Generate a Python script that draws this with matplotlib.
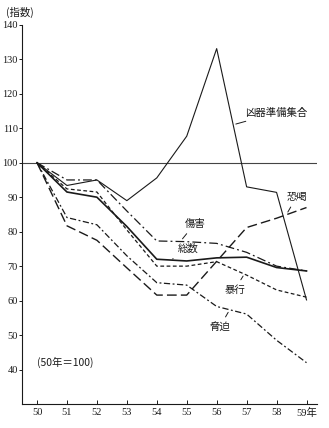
import matplotlib.pyplot as plt

# 年次 (昭和50年 = 100)
years = [50, 51, 52, 53, 54, 55, 56, 57, 58, 59]
year_labels = ['50', '51', '52', '53', '54', '55', '56', '57', '58', '59年']

kyoki = [100, 93.4, 95.0, 89.0, 95.6, 107.7, 133.1, 93.0, 91.4, 60.2]   # 凶器準備集合
shougai = [100, 95.0, 95.0, 86.0, 77.3, 77.1, 76.6, 74.0, 70.0, 68.6]   # 傷害
sousu = [100, 91.5, 90.0, 81.5, 72.0, 71.5, 72.4, 72.6, 69.6, 68.6]     # 総数
boukou = [100, 92.4, 91.5, 80.5, 70.0, 70.0, 71.3, 67.4, 63.1, 61.0]    # 暴行
kyouhaku = [100, 84.1, 82.0, 73.0, 65.2, 64.5, 58.3, 56.1, 48.5, 42.0]  # 脅迫
kyoukatsu = [100, 81.7, 77.5, 69.5, 61.6, 61.6, 71.4, 81.2, 83.9, 87.0] # 恐喝

y_ticks = [40, 50, 60, 70, 80, 90, 100, 110, 120, 130, 140]

JP = ['Noto Sans CJK JP', 'DejaVu Sans']
NUM = 'Liberation Serif'
ink = '#1a1a1a'

fig = plt.figure(figsize=(3.29, 4.28), dpi=100)
ax = fig.add_axes([0.067, 0.056, 0.8965, 0.886])

ax.axhline(100, color='#444444', lw=0.8)

ax.plot(years, kyoki, color=ink, lw=0.8)
ax.plot(years, shougai, color=ink, lw=0.9, ls=(0, (7, 2.5, 1.5, 2.5)))
ax.plot(years, sousu, color=ink, lw=1.2)
ax.plot(years, boukou, color=ink, lw=0.9, ls=(0, (3, 2)))
ax.plot(years, kyouhaku, color=ink, lw=0.9, ls=(0, (5, 2, 1.5, 2)))
ax.plot(years, kyoukatsu, color=ink, lw=1.0, ls=(0, (7, 3)))

ax.set_xlim(49.5, 59.35)
ax.set_ylim(30, 140)
ax.set_xticks(years)
ax.set_xticklabels(year_labels, fontsize=7.5, family=[NUM, 'Noto Sans CJK JP'])
ax.set_yticks(y_ticks)
ax.set_yticklabels([str(v) for v in y_ticks], fontsize=7.5, family=NUM)
ax.tick_params(axis='x', direction='in', length=3, width=0.7, colors=ink, pad=3)
ax.tick_params(axis='y', direction='out', length=2.5, width=0.7, colors=ink, pad=0.5)
for s in ['top', 'right']:
    ax.spines[s].set_visible(False)
for s in ['left', 'bottom']:
    ax.spines[s].set_linewidth(0.8)
    ax.spines[s].set_color(ink)

lead = dict(arrowstyle='-', color=ink, lw=0.7)
tkw = dict(fontsize=7.5, family=JP, color=ink, ha='center', va='center')
ax.annotate('凶器準備集合', xy=(56.55, 111), xytext=(58.0, 114.5),
            arrowprops=lead, **tkw)
ax.annotate('傷害', xy=(54.8, 77.3), xytext=(55.27, 82.3), arrowprops=lead, **tkw)
ax.annotate('総数', xy=(54.53, 72.1), xytext=(55.03, 74.9), arrowprops=lead, **tkw)
ax.annotate('暴行', xy=(56.93, 67.8), xytext=(56.6, 63.1), arrowprops=lead, **tkw)
ax.annotate('脅迫', xy=(56.43, 57.3), xytext=(56.1, 52.3), arrowprops=lead, **tkw)
ax.annotate('恐喝', xy=(58.33, 85.0), xytext=(58.67, 90.1), arrowprops=lead, **tkw)

ax.text(50.93, 42.2, '(50年＝100)', fontsize=7.5, family=JP, color=ink,
        ha='center', va='center')
fig.text(0.06, 0.972, '(指数)', fontsize=7.5, family=JP, color=ink,
         ha='center', va='center')

fig.savefig('out.png', dpi=100)
